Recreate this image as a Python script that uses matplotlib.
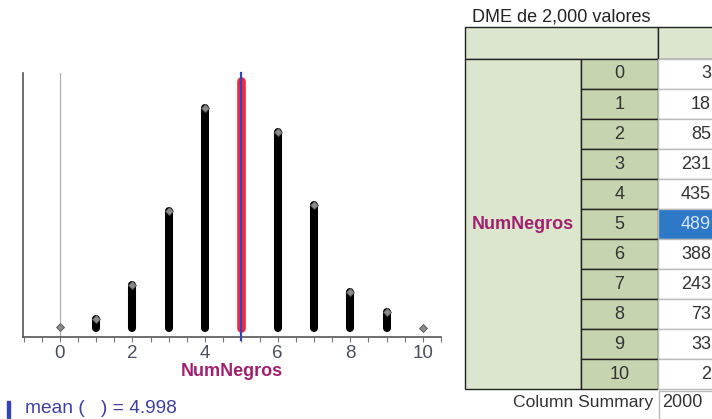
import matplotlib.pyplot as plt
from matplotlib.patches import Rectangle
import numpy as np

plt.rcParams['font.family'] = ['Liberation Sans', 'DejaVu Sans']

# datos
valores = [0, 1, 2, 3, 4, 5, 6, 7, 8, 9, 10]
conteos = [3, 18, 85, 231, 435, 489, 388, 243, 73, 33, 2]
media = 4.998
total = 2000
seleccionado = 5
titulo = "DME de 2,000 valores"
variable = "NumNegros"

W, H = 712, 419
fig = plt.figure(figsize=(W / 100, H / 100), dpi=100)

# --- grafico de puntos ---
def fx(px):
    return px / W

def fy(py):
    return 1 - py / H

ax = fig.add_axes([fx(23), fy(337), fx(441) - fx(23), fy(73) - fy(337)])
ax.set_xlim(-1.016, 10.47)
ax.set_ylim(-17.7, 503)

ax.axvline(0, color='#b0b0b0', lw=0.9, zorder=1)

for v, c in zip(valores, conteos):
    col = '#f02a3c' if v == seleccionado else 'black'
    if c > 5:
        ax.vlines(v, 0, c - 1, color=col, lw=6.2 if v == seleccionado else 5.8,
                  capstyle='round', zorder=2)
    if v != seleccionado:
        ax.plot(v, c - 1, marker='D', ms=4.2, mfc='#8a8a8a', mec='#555555',
                mew=0.6, zorder=3)

ax.axvline(media, ymin=-0.012, ymax=1.0, color='#3344bb', lw=1.6,
           zorder=4, clip_on=False)

for s in ['top', 'right']:
    ax.spines[s].set_visible(False)
ax.spines['left'].set_color('#555555')
ax.spines['bottom'].set_color('#555555')
ax.spines['left'].set_linewidth(1.2)
ax.spines['bottom'].set_linewidth(1.2)
ax.set_yticks([])
ax.set_xticks(range(0, 11, 2))
ax.set_xticks(np.arange(-1, 10.6, 0.5), minor=True)
ax.tick_params(axis='x', which='both', direction='out', length=3.5,
               color='#777777', width=0.8, labelsize=13.5,
               labelcolor='#4a4f5e', pad=2)
ax.set_xlabel(variable, fontsize=13, fontweight='bold', color='#a0206e',
              labelpad=1)

# leyenda de la media
fig.add_artist(Rectangle((fx(7), fy(418)), 3 / W, 17 / H,
                         transform=fig.transFigure, color='#3344bb'))
fig.text(fx(25), fy(408), "mean (   ) = %.3f" % media, fontsize=13.8,
         color='#3d3f9e', va='center', ha='left')

# --- tabla ---
tx = fig.add_axes([0, 0, 1, 1])
tx.set_xlim(0, W)
tx.set_ylim(H, 0)
tx.axis('off')

verde1 = '#dce6cf'
verde2 = '#c6d4b0'
azul = '#2e78c8'
x0, x1, x2, x3 = 465, 581, 658, 740
yh, y0, dh = 27, 59, 30
fs = 13

tx.text(472, 16.5, titulo, fontsize=13, color='#222222', va='center')

tx.add_patch(Rectangle((x0, yh), x2 - x0, y0 - yh, fc=verde1, ec='#222222', lw=1))
tx.add_patch(Rectangle((x2, yh), x3 - x2, y0 - yh, fc=verde1, ec='#222222', lw=1))
n = len(valores)
tx.add_patch(Rectangle((x0, y0), x1 - x0, n * dh, fc=verde1, ec='#222222', lw=1))
tx.text((x0 + x1) / 2, y0 + n * dh / 2, variable, fontsize=fs,
        fontweight='bold', color='#a0206e', ha='center', va='center')

for i, (v, c) in enumerate(zip(valores, conteos)):
    y = y0 + i * dh
    tx.add_patch(Rectangle((x1, y), x2 - x1, dh, fc=verde2, ec='#222222', lw=1))
    tx.text((x1 + x2) / 2, y + dh / 2, str(v), fontsize=fs, color='#333333',
            ha='center', va='center')
    sel = v == seleccionado
    tx.add_patch(Rectangle((x2, y), x3 - x2, dh, fc=azul if sel else 'white',
                           ec='#bbbbbb', lw=1, zorder=1))
    tx.text(711, y + dh / 2, str(c), fontsize=fs,
            color='#d6e6f8' if sel else '#333333', ha='right', va='center', zorder=2)

ys = y0 + n * dh
tx.add_patch(Rectangle((x2 + 1, ys + 2), x3 - x2, 30, fc='white', ec='#bbbbbb', lw=1))
tx.text(653, 402, "Column Summary", fontsize=12.6, color='#333333',
        ha='right', va='center')
tx.text(662, 402, str(total), fontsize=fs, color='#333333',
        ha='left', va='center')

fig.savefig('out.png', dpi=100)
